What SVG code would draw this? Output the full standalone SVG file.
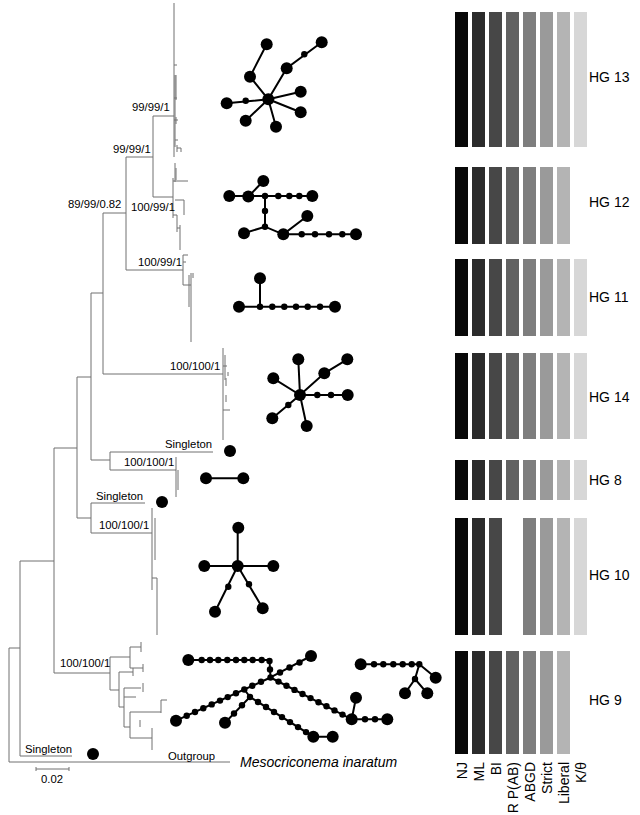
<svg xmlns="http://www.w3.org/2000/svg" width="640" height="815" viewBox="0 0 640 815">
<style>
.t{fill:none;stroke:#707070;stroke-width:1}
.e{stroke:#000;stroke-width:2;fill:none}
.b{fill:#000}
.lb{font-family:"Liberation Sans",Arial,sans-serif;font-size:11.3px;fill:#000}
.hg{font-family:"Liberation Sans",Arial,sans-serif;font-size:14px;fill:#000}
.ax{font-family:"Liberation Sans",Arial,sans-serif;font-size:14px;fill:#000;text-anchor:end}
.c1{fill:#080808}.c2{fill:#2b2b2b}.c3{fill:#474747}.c4{fill:#616161}.c5{fill:#7e7e7e}.c6{fill:#9a9a9a}.c7{fill:#b4b4b4}.c8{fill:#d7d7d7}
</style>
<defs>
<circle id="B" r="6"/>
<circle id="S" r="3.2"/>
</defs>

<g id="tree" class="t">
<path d="M9,648V762M9,648H20M9,762H230"/>
<path d="M20,561V756M20,756H72M20,561H54"/>
<path d="M54,448V673M54,673H110M54,448H77"/>
<path d="M77,377V518M77,518H91M77,377H91"/>
<path d="M91,293V460M91,460H110M91,293H103"/>
<path d="M103,213V374M103,374H223M103,213H126"/>
<path d="M126,157V270M126,270H183M126,157H153"/>
<path d="M153,116V197M153,116H174M153,197H173"/>
<!-- HG13 -->
<path d="M174,3V157M175,75V147M176,75V100M177,65H174M174,98H177M176,117V124M174,120H178M175,140H178M177,145V152M177,148H181M181,148V152"/>
<!-- HG12 -->
<path d="M173,178V218M175,163V182M176,168V180M173,181H188M184,200V215M175,200H184M177,215V232M173,215H177M180,225V250M177,228H180"/>
<!-- HG11 -->
<path d="M183,255V285M183,255H188M183,285H191M191,273V342M189,275V307M183,262H186M193,273V278"/>
<!-- HG14 -->
<path d="M223,348V440M225,355V380M226,395V402M223,410H230M223,366H227M226,378V386M228,372V376"/>
<!-- HG8 -->
<path d="M110,452V470M110,452H213M110,470H176M176,457V497M178,470V490"/>
<!-- HG10 -->
<path d="M91,503V533M91,503H145M91,533H152M152,508V590M155,518V560M152,578H157M157,578V635"/>
<!-- HG9 -->
<path d="M110,657V690M110,657H130M130,647V668M130,647H141M141,642V652M130,668H143M143,664V672"/>
<path d="M110,690H119M119,672V707M119,672H133M133,668V676M119,707H124M124,688V727M124,688H141M143,683V692M124,697H136M124,727H130M130,712V738M130,712H161M161,700V713M161,700H167M130,738H152M152,728V750M140,720V727"/>
<!-- scale bar -->
<path d="M36,769H69M36,767V771M69,767V771"/>
</g>

<g id="tree-labels">
<text class="lb" x="132" y="111">99/99/1</text>
<text class="lb" x="113" y="153">99/99/1</text>
<text class="lb" x="68" y="208">89/99/0.82</text>
<text class="lb" x="131" y="211">100/99/1</text>
<text class="lb" x="138" y="266">100/99/1</text>
<text class="lb" x="170" y="370">100/100/1</text>
<text class="lb" x="165" y="448">Singleton</text>
<text class="lb" x="124" y="466">100/100/1</text>
<text class="lb" x="96" y="500">Singleton</text>
<text class="lb" x="99" y="529">100/100/1</text>
<text class="lb" x="60" y="667">100/100/1</text>
<text class="lb" x="25" y="753">Singleton</text>
<text class="lb" x="168" y="760">Outgroup</text>
<text class="lb" x="41" y="783">0.02</text>
<text class="hg" x="240" y="767" font-style="italic">Mesocriconema inaratum</text>
</g>

<g id="singletons" class="b">
<use href="#B" x="230" y="451"/>
<use href="#B" x="162" y="502"/>
<use href="#B" x="93" y="754"/>
</g>

<g id="net-HG13">
<path class="e" d="M266.7,44.3L250,76.7L268.3,99.3M321.7,42.3L286.7,68.3L268.3,99.3M268.3,99.3L300.7,91.7M268.3,99.3L300.7,112.3M268.3,99.3L276,126.7M268.3,99.3L245.7,120.7M268.3,99.3L226.7,103.3"/>
<g class="b">
<use href="#B" x="268.3" y="99.3"/>
<use href="#B" x="266.7" y="44.3"/><use href="#B" x="250" y="76.7"/>
<use href="#B" x="321.7" y="42.3"/><use href="#S" x="304.3" y="54.3"/><use href="#B" x="286.7" y="68.3"/>
<use href="#B" x="300.7" y="91.7"/><use href="#B" x="300.7" y="112.3"/><use href="#B" x="276" y="126.7"/>
<use href="#B" x="245.7" y="120.7"/><use href="#B" x="226.7" y="103.3"/><use href="#S" x="245.7" y="100.7"/>
</g>
</g>

<g id="net-HG12">
<path class="e" d="M229.3,196H312.3M248.3,196.7L263.3,181M265,196V226.7M244,233.3L265,226.7L283.3,234.3L307.3,216M283.3,234.3H356"/>
<g class="b">
<use href="#B" x="229.3" y="196"/><use href="#B" x="248.3" y="196.5"/><use href="#B" x="263.3" y="181"/>
<use href="#S" x="265" y="196"/><use href="#S" x="278.3" y="196"/><use href="#S" x="289.3" y="196"/><use href="#S" x="299.3" y="196"/><use href="#B" x="312.3" y="196"/>
<use href="#S" x="265" y="211"/><use href="#S" x="265" y="226.7"/>
<use href="#B" x="244" y="233.3"/><use href="#B" x="283.3" y="234.3"/><use href="#B" x="307.3" y="216"/>
<use href="#S" x="301.7" y="234.3"/><use href="#S" x="315" y="234.3"/><use href="#S" x="329" y="234.3"/><use href="#S" x="342.3" y="234.3"/><use href="#B" x="356" y="234.3"/>
</g>
</g>

<g id="net-HG11">
<path class="e" d="M260,278.3V306.7M239,306.7H335"/>
<g class="b">
<use href="#B" x="260" y="278.3"/><use href="#S" x="260" y="306.7"/><use href="#B" x="239" y="306.7"/>
<use href="#S" x="272.3" y="306.7"/><use href="#S" x="284.3" y="306.7"/><use href="#S" x="296" y="306.7"/><use href="#S" x="307.7" y="306.7"/><use href="#S" x="320" y="306.7"/><use href="#B" x="335" y="306.7"/>
</g>
</g>

<g id="net-HG14">
<path class="e" d="M300,395L298.3,359.3M300,395L273.3,378.3M300,395L324.3,373.3L347.3,359.3M300,395H347.7M300,395L272.3,418.3M300,395L306.7,426"/>
<g class="b">
<use href="#B" x="300" y="395"/><use href="#B" x="298.3" y="359.3"/><use href="#B" x="273.3" y="378.3"/>
<use href="#B" x="324.3" y="373.3"/><use href="#B" x="347.3" y="359.3"/>
<use href="#S" x="317.3" y="395"/><use href="#S" x="331" y="395"/><use href="#B" x="347.7" y="395"/>
<use href="#S" x="288.3" y="405"/><use href="#B" x="272.3" y="418.3"/><use href="#B" x="306.7" y="426"/>
</g>
</g>

<g id="net-HG8">
<path class="e" d="M206,478.3H243.3"/>
<g class="b"><use href="#B" x="206" y="478.3"/><use href="#B" x="243.3" y="478.3"/></g>
</g>

<g id="net-HG10">
<path class="e" d="M237.7,566V527.7M204.3,566H273.3M237.7,566L215,611.7M237.7,566L262.7,608.3"/>
<g class="b">
<use href="#B" x="237.7" y="566"/><use href="#B" x="238.3" y="527.7"/><use href="#B" x="204.3" y="566"/><use href="#B" x="273.3" y="566"/>
<use href="#S" x="228.3" y="586.7"/><use href="#B" x="215" y="611.7"/><use href="#S" x="249" y="584.3"/><use href="#B" x="262.7" y="608.3"/>
</g>
</g>

<g id="net-HG9">
<path class="e" d="M188.3,660H269.5L270.5,677.5L311,656M270.5,677.5L176,720.7M244.3,689.5L250,697L225,722.7M250,697L313.3,736.7H332.7M270.5,677.5L351.7,719.3H387.3M351.7,719.3L356,697.7M360.7,664.3H419.3L435.7,677.7M419.3,664.3L415,679L405,693.3M415,679L427.3,693.3"/>
<g class="b">
<use href="#B" x="188.3" y="660"/>
<use href="#S" x="201.7" y="660"/><use href="#S" x="210" y="660"/><use href="#S" x="218.3" y="660"/><use href="#S" x="227.3" y="660"/><use href="#S" x="236" y="660"/><use href="#S" x="244.3" y="660"/><use href="#S" x="252.7" y="660"/><use href="#S" x="261.7" y="660"/><use href="#S" x="269.5" y="661"/>
<use href="#S" x="270" y="669.5"/><use href="#S" x="270.5" y="677.5"/>
<use href="#S" x="280" y="672.5"/><use href="#S" x="289.5" y="667.5"/><use href="#S" x="299.5" y="662.5"/><use href="#B" x="311" y="656"/>
<use href="#S" x="261" y="681.8"/><use href="#S" x="252.3" y="685.8"/><use href="#S" x="244.3" y="689.5"/><use href="#S" x="236" y="693.3"/><use href="#S" x="227.7" y="697.1"/><use href="#S" x="220" y="700.6"/><use href="#S" x="211.7" y="704.4"/><use href="#S" x="203.3" y="708.2"/><use href="#S" x="195" y="712"/><use href="#S" x="186.7" y="715.8"/><use href="#B" x="176" y="720.7"/>
<use href="#S" x="250" y="697"/><use href="#S" x="242" y="705.2"/><use href="#S" x="234" y="713.5"/><use href="#B" x="225" y="722.7"/>
<use href="#S" x="258" y="702"/><use href="#S" x="266" y="707"/><use href="#S" x="274" y="712"/><use href="#S" x="282" y="717.1"/><use href="#S" x="290" y="722.1"/><use href="#S" x="298" y="727.1"/><use href="#S" x="306" y="732.1"/><use href="#B" x="313.3" y="736.7"/><use href="#B" x="332.7" y="736.7"/>
<use href="#S" x="278.5" y="681.6"/><use href="#S" x="286.5" y="685.7"/><use href="#S" x="294.5" y="689.9"/><use href="#S" x="302.5" y="694"/><use href="#S" x="310.5" y="698.1"/><use href="#S" x="318.5" y="702.2"/><use href="#S" x="326.5" y="706.3"/><use href="#S" x="334.5" y="710.4"/><use href="#S" x="342.5" y="714.6"/><use href="#B" x="351.7" y="719.3"/>
<use href="#B" x="356" y="697.7"/><use href="#S" x="365" y="719.3"/><use href="#S" x="375" y="719.3"/><use href="#B" x="387.3" y="719.3"/>
<use href="#B" x="360.7" y="664.3"/><use href="#S" x="374" y="664.3"/><use href="#S" x="383.3" y="664.3"/><use href="#S" x="393.3" y="664.3"/><use href="#S" x="402.7" y="664.3"/><use href="#S" x="411.7" y="664.3"/><use href="#S" x="419.3" y="664.3"/>
<use href="#B" x="435.7" y="677.7"/><use href="#S" x="415" y="679"/><use href="#B" x="405" y="693.3"/><use href="#B" x="427.3" y="693.3"/>
</g>
</g>

<g id="bars-HG13">
<rect class="c1" x="455" y="12" width="13" height="135"/><rect class="c2" x="472" y="12" width="13" height="135"/><rect class="c3" x="489" y="12" width="13" height="135"/><rect class="c4" x="506" y="12" width="13" height="135"/><rect class="c5" x="523" y="12" width="13" height="135"/><rect class="c6" x="540" y="12" width="13" height="135"/><rect class="c7" x="557" y="12" width="13" height="135"/><rect class="c8" x="574" y="12" width="13" height="135"/>
<text class="hg" x="589" y="82">HG 13</text>
</g>
<g id="bars-HG12">
<rect class="c1" x="455" y="167" width="13" height="77"/><rect class="c2" x="472" y="167" width="13" height="77"/><rect class="c3" x="489" y="167" width="13" height="77"/><rect class="c4" x="506" y="167" width="13" height="77"/><rect class="c5" x="523" y="167" width="13" height="77"/><rect class="c6" x="540" y="167" width="13" height="77"/><rect class="c7" x="557" y="167" width="13" height="77"/>
<text class="hg" x="589" y="207">HG 12</text>
</g>
<g id="bars-HG11">
<rect class="c1" x="455" y="259" width="13" height="77"/><rect class="c2" x="472" y="259" width="13" height="77"/><rect class="c3" x="489" y="259" width="13" height="77"/><rect class="c4" x="506" y="259" width="13" height="77"/><rect class="c5" x="523" y="259" width="13" height="77"/><rect class="c6" x="540" y="259" width="13" height="77"/><rect class="c7" x="557" y="259" width="13" height="77"/><rect class="c8" x="574" y="259" width="13" height="77"/>
<text class="hg" x="589" y="302">HG 11</text>
</g>
<g id="bars-HG14">
<rect class="c1" x="455" y="353" width="13" height="86"/><rect class="c2" x="472" y="353" width="13" height="86"/><rect class="c3" x="489" y="353" width="13" height="86"/><rect class="c4" x="506" y="353" width="13" height="86"/><rect class="c5" x="523" y="353" width="13" height="86"/><rect class="c6" x="540" y="353" width="13" height="86"/><rect class="c7" x="557" y="353" width="13" height="86"/><rect class="c8" x="574" y="353" width="13" height="86"/>
<text class="hg" x="589" y="402">HG 14</text>
</g>
<g id="bars-HG8">
<rect class="c1" x="455" y="460" width="13" height="40"/><rect class="c2" x="472" y="460" width="13" height="40"/><rect class="c3" x="489" y="460" width="13" height="40"/><rect class="c4" x="506" y="460" width="13" height="40"/><rect class="c5" x="523" y="460" width="13" height="40"/><rect class="c6" x="540" y="460" width="13" height="40"/><rect class="c7" x="557" y="460" width="13" height="40"/><rect class="c8" x="574" y="460" width="13" height="40"/>
<text class="hg" x="589" y="485">HG 8</text>
</g>
<g id="bars-HG10">
<rect class="c1" x="455" y="518" width="13" height="117"/><rect class="c2" x="472" y="518" width="13" height="117"/><rect class="c3" x="489" y="518" width="13" height="117"/><rect class="c5" x="523" y="518" width="13" height="117"/><rect class="c6" x="540" y="518" width="13" height="117"/><rect class="c7" x="557" y="518" width="13" height="117"/><rect class="c8" x="574" y="518" width="13" height="117"/>
<text class="hg" x="589" y="580">HG 10</text>
</g>
<g id="bars-HG9">
<rect class="c1" x="455" y="651" width="13" height="103"/><rect class="c2" x="472" y="651" width="13" height="103"/><rect class="c3" x="489" y="651" width="13" height="103"/><rect class="c4" x="506" y="651" width="13" height="103"/><rect class="c5" x="523" y="651" width="13" height="103"/><rect class="c6" x="540" y="651" width="13" height="103"/><rect class="c7" x="557" y="651" width="13" height="103"/>
<text class="hg" x="589" y="705">HG 9</text>
</g>

<g id="axis-labels">
<text class="ax" transform="translate(467,762) rotate(-90)">NJ</text>
<text class="ax" transform="translate(484,762) rotate(-90)">ML</text>
<text class="ax" transform="translate(501,762) rotate(-90)">BI</text>
<text class="ax" transform="translate(518,762) rotate(-90)">R P(AB)</text>
<text class="ax" transform="translate(535,762) rotate(-90)">ABGD</text>
<text class="ax" transform="translate(552,762) rotate(-90)">Strict</text>
<text class="ax" transform="translate(569,762) rotate(-90)">Liberal</text>
<text class="ax" transform="translate(586,762) rotate(-90)">K/θ</text>
</g>
</svg>
